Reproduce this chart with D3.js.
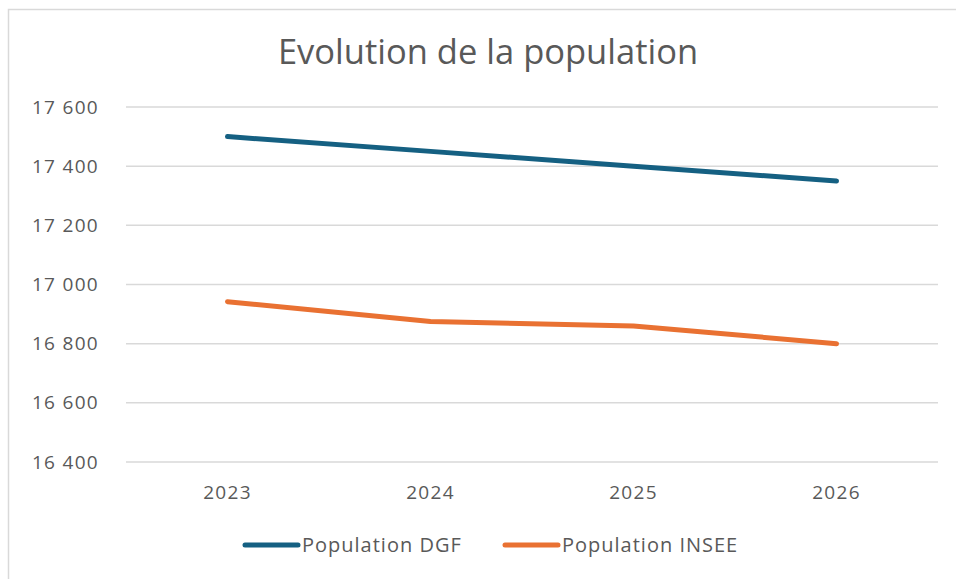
<!DOCTYPE html>
<html lang="fr">
<head>
  <meta charset="utf-8">
  <title>Evolution de la population</title>
  <script src="https://d3js.org/d3.v7.min.js"></script>
</head>
<style>
  body { margin: 0; background: #fff; }
  text { font-family: "Open Sans", sans-serif; fill: #595959; }
</style>
<body>
  <div class="chart"></div>
</body>
<script>
var years = ["2023", "2024", "2025", "2026"];
var popDGF = [17500, 17450, 17400, 17350];
var popINSEE = [16942, 16875, 16860, 16800];
var yTicks = [16400, 16600, 16800, 17000, 17200, 17400, 17600];

var series = [
  {name: "Population DGF", values: popDGF, color: "#156082"},
  {name: "Population INSEE", values: popINSEE, color: "#E97132"}
];

var W = 956, H = 579;
var margin = {top: 107, bottom: 117, left: 126, right: 18};
var width = W - margin.left - margin.right;
var height = H - margin.top - margin.bottom;

var svg = d3.select(".chart")
  .append("svg")
  .attr("width", W)
  .attr("height", H);

// chart frame
svg.append("rect")
  .attr("x", 8.5).attr("y", 9.5)
  .attr("width", 1000).attr("height", 700)
  .attr("fill", "none")
  .attr("stroke", "#d9d9d9")
  .attr("stroke-width", 1.5);

svg.append("text")
  .attr("x", 488).attr("y", 64)
  .attr("text-anchor", "middle")
  .style("font-size", "34.5px")
  .text("Evolution de la population");

var canvas = svg.append("g")
  .attr("transform", "translate(" + margin.left + "," + margin.top + ")");

var x = d3.scaleBand().domain(years).range([0, width]);
var y = d3.scaleLinear().domain([16400, 17600]).range([height, 0]);

var fr = d3.formatLocale({decimal: ",", thousands: " ", grouping: [3], currency: ["", " €"]});
var fmt = fr.format(",d");

// gridlines
canvas.selectAll(".grid")
  .data(yTicks)
  .enter().append("line")
  .attr("x1", 0).attr("x2", width)
  .attr("y1", function(d){ return y(d); })
  .attr("y2", function(d){ return y(d); })
  .attr("stroke", "#d9d9d9")
  .attr("stroke-width", 1.5);

// y axis
var yAxis = canvas.append("g")
  .call(d3.axisLeft(y).tickValues(yTicks).tickFormat(fmt).tickSize(0).tickPadding(27));
yAxis.select(".domain").remove();
yAxis.selectAll("text").style("font-size", "19px").style("letter-spacing", "1.3px")
  .attr("fill", "#595959").style("font-family", "'Open Sans', sans-serif");

// x axis
var xAxis = canvas.append("g")
  .attr("transform", "translate(0," + height + ")")
  .call(d3.axisBottom(x).tickSize(0).tickPadding(24));
xAxis.select(".domain").remove();
xAxis.selectAll("text").style("font-size", "19px").style("letter-spacing", "1.3px")
  .attr("fill", "#595959").style("font-family", "'Open Sans', sans-serif");

var line = d3.line()
  .x(function(d, i){ return x(years[i]) + x.bandwidth() / 2; })
  .y(function(d){ return y(d); });

canvas.selectAll(".serie")
  .data(series)
  .enter().append("path")
  .attr("class", "serie")
  .attr("d", function(d){ return line(d.values); })
  .attr("fill", "none")
  .attr("stroke", function(d){ return d.color; })
  .attr("stroke-width", 5)
  .attr("stroke-linecap", "round")
  .attr("stroke-linejoin", "round");

// legend
var legendX = [245, 505];
var legend = svg.selectAll(".legend")
  .data(series)
  .enter().append("g")
  .attr("class", "legend")
  .attr("transform", function(d, i){ return "translate(" + legendX[i] + ",545)"; });

legend.append("line")
  .attr("x1", 0).attr("x2", 53)
  .attr("stroke", function(d){ return d.color; })
  .attr("stroke-width", 5)
  .attr("stroke-linecap", "round");

legend.append("text")
  .attr("x", 57).attr("dy", "0.35em")
  .style("font-size", "20px")
  .style("letter-spacing", "1px")
  .text(function(d){ return d.name; });
</script>
</html>
